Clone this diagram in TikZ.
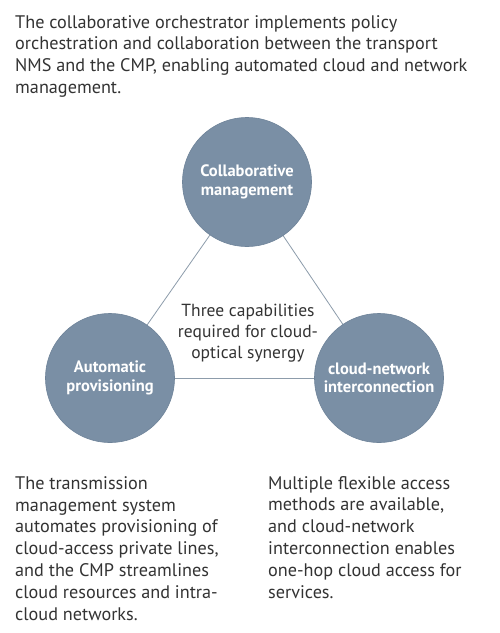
\documentclass[tikz,border=0pt]{standalone}
\usepackage{fontspec}
\setmainfont{PT Sans}
\definecolor{circfill}{HTML}{7A8FA5}
\definecolor{circdraw}{HTML}{6E8399}
\definecolor{linkcol}{HTML}{8D9CAB}
\definecolor{txt}{HTML}{333333}
\begin{document}
\begin{tikzpicture}[x=1pt,y=-1pt,
  capnode/.style={circle, minimum size=129pt, inner sep=0pt, fill=circfill, draw=circdraw, line width=0.6pt,
    text=white, align=center, font=\fontsize{16.5}{18.5}\selectfont\bfseries},
  para/.style={anchor=base west, inner sep=0pt, align=left, text=txt, font=\fontsize{18.2}{21.8}\selectfont},
  link/.style={draw=linkcol, line width=0.8pt}]
\fill[white] (0,0) rectangle (500,633);
\useasboundingbox (0,0) rectangle (500,633);
% base anchor of a multi-line node = baseline of its last line
\node[para] (intro) at (15,93.4) {The collaborative orchestrator implements policy\\orchestration and collaboration between the transport\\NMS and the CMP, enabling automated cloud and network\\management.};
\coordinate (ct) at (247,182);
\coordinate (cl) at (110,378);
\coordinate (cr) at (379,378);
\draw[link] (ct) -- (cl);
\draw[link] (ct) -- (cr);
\draw[link] (cl) -- (cr);
\node[capnode] (top) at (ct) {Collaborative\\management};
\node[capnode] (left) at (cl) {Automatic\\provisioning};
\node[capnode] (right) at (cr) {cloud-network\\interconnection};
\node[anchor=base, inner sep=0pt, align=center, text=txt, font=\fontsize{17.5}{21}\selectfont] (center) at (248,358) {Three capabilities\\required for cloud-\\optical synergy};
\node[para] (leftdesc) at (15,620) {The transmission\\management system\\automates provisioning of\\cloud-access private lines,\\and the CMP streamlines\\cloud resources and intra-\\cloud networks.};
\node[para] (rightdesc) at (268,598) {Multiple flexible access\\methods are available,\\and cloud-network\\interconnection enables\\one-hop cloud access for\\services.};
\end{tikzpicture}
\end{document}
